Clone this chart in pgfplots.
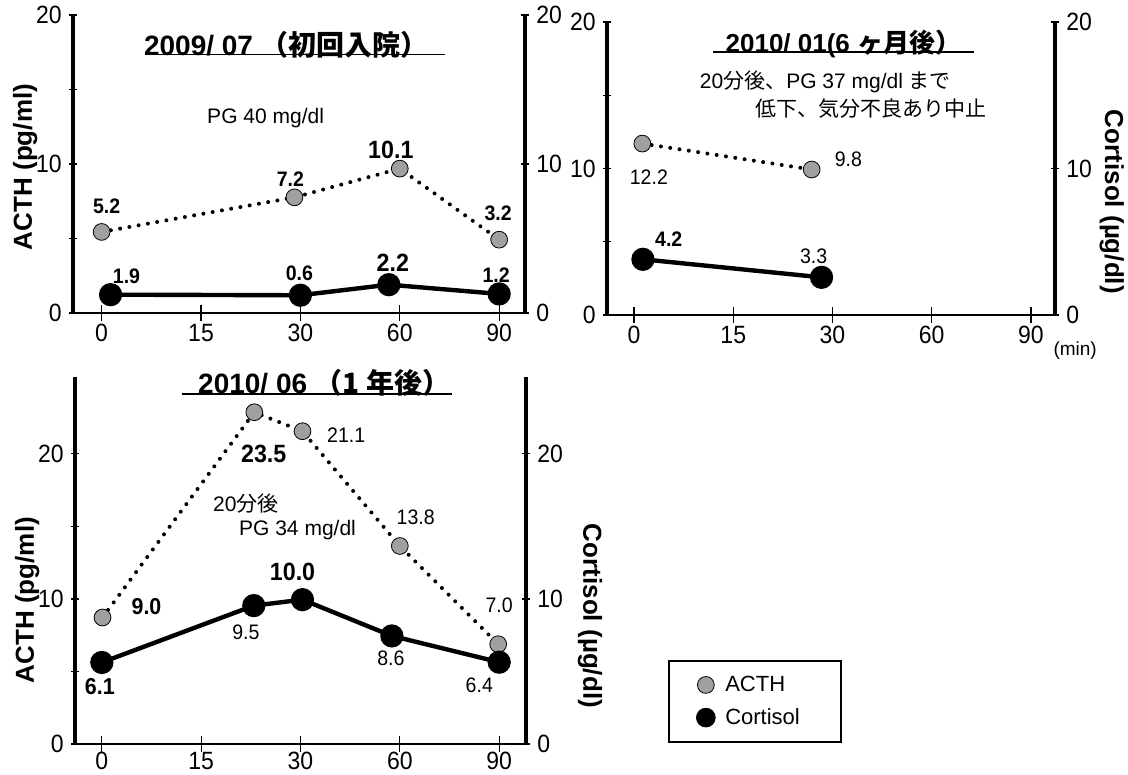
\documentclass[border=0pt]{standalone}
\usepackage{fontspec}
\setmainfont{Liberation Sans}
\newfontfamily\cjk{Noto Sans CJK JP}
\usepackage{graphicx}
\usepackage{pgfplots}
\pgfplotsset{compat=1.18}
\definecolor{acthgray}{RGB}{160,160,160}
\newcommand\cn[1]{\scalebox{0.93}[1]{#1}}
\newcommand\tn[1]{\scalebox{0.92}[1]{#1}}
\newcommand\fs[1]{\fontsize{#1}{#1}\selectfont}
\tikzset{
 lr/.style={font=\fs{10.5}}, lb/.style={font=\bfseries\fs{10.5}},
 lm/.style={font=\bfseries\fs{11.5}}, lB/.style={font=\bfseries\fs{12.5}},
}
\pgfplotsset{
 base/.style={scale only axis, anchor=south west, clip=false,
   ticklabel style={font=\fs{12.5}},
   tick align=inside, tick style={black,line width=0.6pt}},
 leftax/.style={base, axis x line=bottom, axis y line=left,
   x axis line style={-,line width=1.2pt}, y axis line style={-,line width=1.7pt},
   xtick={0,1,2,3,4},
   xticklabels={\tn{0},\tn{15},\tn{30},\tn{60},\tn{90}},
   xtick style={/pgfplots/major tick length=8pt},
   ytick style={/pgfplots/major tick length=4pt}},
 rightax/.style={base, axis x line=none, axis y line=right,
   y axis line style={-,line width=1.7pt},
   ytick={0,10,20}, yticklabels={\tn{0},\tn{10},\tn{20}},
   ytick style={/pgfplots/major tick length=4pt}, xtick=\empty},
 acth/.style={black, line width=2pt, dash pattern=on 0pt off 4.7pt, line cap=round,
   mark=*, mark size=4.2pt, mark options={solid, fill=acthgray, draw=black, line width=0.4pt}},
 cort/.style={black, line width=2.2pt, mark=*, mark size=4.7pt, mark options={solid, fill=black}},
}
\begin{document}
\begin{tikzpicture}
\useasboundingbox (0,0) rectangle (564pt,387.5pt);
% ---------------- Panel 1 ----------------
\begin{axis}[leftax, at={(36.5pt,231pt)}, width=226pt, height=149pt,
  xmin=-0.288, xmax=4.26, ymin=0, ymax=20,
  ytick={0,5,10,15,20}, yticklabels={\tn{0},,\tn{10},,\tn{20}}]
\addplot[acth] coordinates {(0,5.44) (1.94,7.76) (3.0,9.69) (4.0,4.92)};
\addplot[cort] coordinates {(0.09,1.23) (2.0,1.19) (2.89,1.90) (4.0,1.28)};
\node[lb] at (axis cs:0.05,7.16) {\cn{5.2}};
\node[lb] at (axis cs:1.90,8.95) {\cn{7.2}};
\node[lB] at (axis cs:2.91,10.96) {\cn{10.1}};
\node[lb] at (axis cs:3.99,6.71) {\cn{3.2}};
\node[lb] at (axis cs:0.25,2.46) {\cn{1.9}};
\node[lb] at (axis cs:1.99,2.68) {\cn{0.6}};
\node[lB] at (axis cs:2.93,3.36) {\cn{2.2}};
\node[lb] at (axis cs:3.97,2.57) {\cn{1.2}};
\node[lr] at (axis cs:1.65,13.09) {PG 40 mg/dl};
\node[font=\bfseries\fs{14}] at (axis cs:1.86,18.0) {2009/ 07 {\cjk （初回入院）}};
\draw[line width=0.8pt] (axis cs:0.45,17.34) -- (axis cs:3.45,17.34);
\node[rotate=90, font=\bfseries\fs{13}] at (axis description cs:-0.106,0.49) {ACTH (pg/ml)};
\end{axis}
\begin{axis}[rightax, at={(36.5pt,231pt)}, width=226pt, height=149pt,
  xmin=-0.288, xmax=4.26, ymin=0, ymax=20]
\end{axis}
% ---------------- Panel 2 ----------------
\begin{axis}[leftax, at={(303.5pt,230pt)}, width=224pt, height=146.5pt,
  xmin=-0.272, xmax=4.242, ymin=0, ymax=20,
  ytick={0,5,10,15,20}, yticklabels={\tn{0},,\tn{10},,\tn{20}}]
\addplot[acth] coordinates {(0.084,11.7) (1.79,9.93)};
\addplot[cort] coordinates {(0.09,3.8) (1.89,2.57)};
\node[lr] at (axis cs:0.15,9.43) {\cn{12.2}};
\node[lr] at (axis cs:2.16,10.61) {\cn{9.8}};
\node[lb] at (axis cs:0.35,5.16) {\cn{4.2}};
\node[lr] at (axis cs:1.81,3.98) {\cn{3.3}};
\node[lr, anchor=west, inner sep=0pt] at (axis cs:0.66,15.9) {20{\cjk 分後、}PG 37 mg/dl {\cjk まで}};
\node[lr, anchor=west, inner sep=0pt] at (axis cs:1.22,14.09) {\cjk 低下、気分不良あり中止};
\node[font=\bfseries\fs{13}] at (axis cs:2.11,18.5) {2010/ 01(6 {\cjk ヶ月後）}};
\draw[line width=0.8pt] (axis cs:0.80,17.95) -- (axis cs:3.43,17.95);
\node[rotate=-90, font=\bfseries\fs{13}] at (axis description cs:1.127,0.386) {Cortisol (µg/dl)};
\node[font=\fs{9.5}] at (axis description cs:1.045,-0.12) {(min)};
\end{axis}
\begin{axis}[rightax, at={(303.5pt,230pt)}, width=224pt, height=146.5pt,
  xmin=-0.272, xmax=4.242, ymin=0, ymax=20]
\end{axis}
% ---------------- Panel 3 ----------------
\begin{axis}[leftax, at={(37.5pt,15.5pt)}, width=225.5pt, height=183.5pt,
  xmin=-0.27, xmax=4.27, ymin=0, ymax=25.3,
  ytick={0,5,10,15,20}, yticklabels={\tn{0},,\tn{10},,\tn{20}},
  xticklabel style={yshift=1.5pt},
  legend style={at={(axis description cs:1.497,0.116)}, anchor=center,
    draw=none, fill=none, font=\fs{11}, row sep=3pt},
  legend cell align=left]
\addplot[acth, forget plot] coordinates {(0.007,8.72) (1.535,22.87) (2.02,21.56) (3.0,13.65) (3.99,6.88)};
\addplot[cort, forget plot] coordinates {(0,5.62) (1.53,9.54) (2.02,9.95) (2.92,7.45) (4.0,5.64)};
\addlegendimage{only marks, mark=*, mark size=4.2pt, mark options={fill=acthgray, draw=black, line width=0.4pt}}
\addlegendentry{\hspace{3pt}ACTH}
\addlegendimage{only marks, mark=*, mark size=4.7pt, black}
\addlegendentry{\hspace{3pt}Cortisol}
\node[lm] at (axis cs:0.45,9.45) {\cn{9.0}};
\node[lB] at (axis cs:1.63,20.0) {\cn{23.5}};
\node[lr] at (axis cs:2.46,21.26) {\cn{21.1}};
\node[lr] at (axis cs:3.16,15.64) {\cn{13.8}};
\node[lr] at (axis cs:4.0,9.56) {\cn{7.0}};
\node[lr] at (axis cs:1.45,16.56) {20{\cjk 分後}};
\node[lr] at (axis cs:1.97,14.72) {PG 34 mg/dl};
\node[lB] at (axis cs:1.92,11.86) {\cn{10.0}};
\node[lr] at (axis cs:1.45,7.73) {\cn{9.5}};
\node[lr] at (axis cs:2.91,5.89) {\cn{8.6}};
\node[lm] at (axis cs:-0.02,3.94) {\cn{6.1}};
\node[lr] at (axis cs:3.80,4.06) {\cn{6.4}};
\node[font=\bfseries\fs{14}] at (axis cs:2.24,24.93) {2010/ 06 {\cjk （1 年後）}};
\draw[line width=0.8pt] (axis cs:0.81,24.13) -- (axis cs:3.53,24.13);
\node[rotate=90, font=\bfseries\fs{13}] at (axis description cs:-0.106,0.392) {ACTH (pg/ml)};
\node[rotate=-90, font=\bfseries\fs{13}] at (axis description cs:1.142,0.349) {Cortisol (µg/dl)};
\end{axis}
\begin{axis}[rightax, at={(37.5pt,15.5pt)}, width=225.5pt, height=183.5pt,
  xmin=-0.27, xmax=4.27, ymin=0, ymax=25.3]
\end{axis}
\draw[line width=0.6pt] (334.5pt,16.5pt) rectangle (420.5pt,57pt);
\end{tikzpicture}
\end{document}
